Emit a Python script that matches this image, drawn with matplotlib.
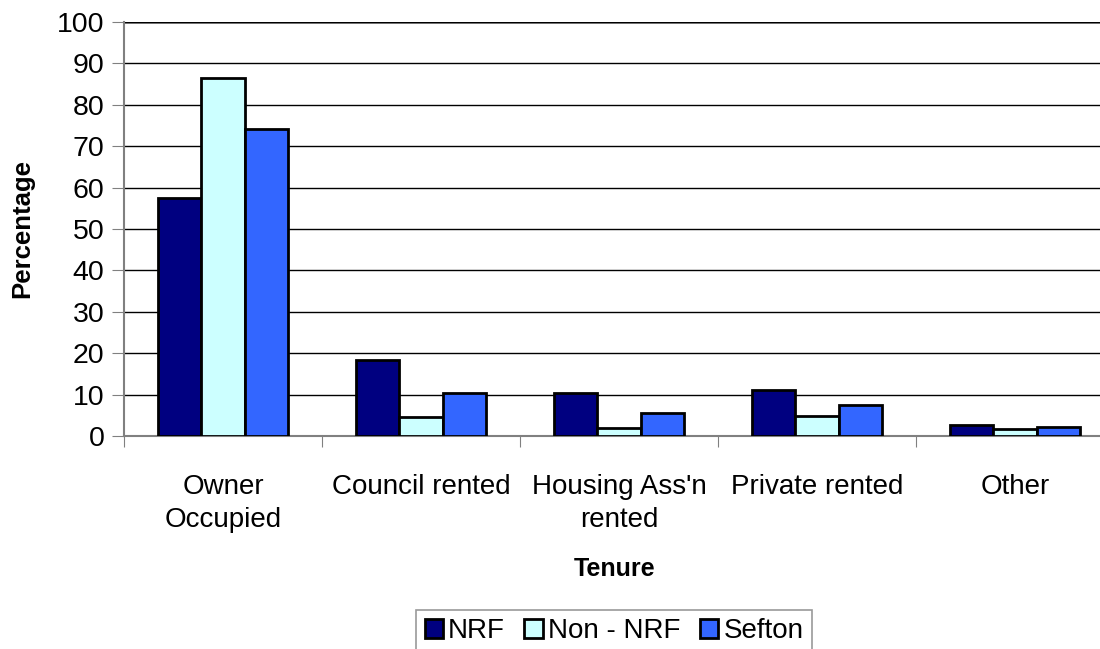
import numpy as np
import matplotlib
matplotlib.use("Agg")
import matplotlib.pyplot as plt

plt.rcParams['font.family'] = ['Liberation Sans', 'DejaVu Sans']

categories = ["Owner\nOccupied", "Council rented", "Housing Ass'n\nrented",
              "Private rented", "Other"]
series = ["NRF", "Non - NRF", "Sefton"]
nrf = [57.4, 18.4, 10.3, 11.1, 2.7]
non_nrf = [86.4, 4.5, 1.9, 4.9, 1.7]
sefton = [74.2, 10.5, 5.5, 7.6, 2.2]
colors = ["#000080", "#CCFFFF", "#3366FF"]

fig = plt.figure(figsize=(11, 6.49), dpi=100)
ax = fig.add_axes([124 / 1100, 1 - 436 / 649, 990 / 1100, 414 / 649])

x = np.arange(len(categories))
w = 0.22
for i, (vals, name) in enumerate(zip([nrf, non_nrf, sefton], series)):
    ax.bar(x + (i - 1) * w, vals, w, color=colors[i], edgecolor='black',
           linewidth=2, label=name, zorder=3)

ax.set_xlim(-0.5, len(categories) - 0.5)
ax.set_ylim(0, 100)
ax.set_yticks(range(0, 101, 10))
ax.tick_params(axis='y', labelsize=20.5, length=9, color='#808080', pad=5)

# category boundaries as ticks, labels at centres
ax.set_xticks(np.arange(len(categories) + 1) - 0.5)
ax.set_xticklabels([])
ax.set_xticks(x, minor=True)
ax.set_xticklabels(categories, minor=True, fontsize=20, linespacing=1.37)
ax.tick_params(axis='x', which='major', length=8, color='#808080')
ax.tick_params(axis='x', which='minor', length=0, pad=27)

ax.grid(axis='y', color='black', linewidth=1, zorder=0)
for s in ['top', 'right']:
    ax.spines[s].set_visible(False)
ax.spines['left'].set_color('#808080')
ax.spines['bottom'].set_color('#808080')
ax.spines['left'].set_linewidth(1.5)
ax.spines['bottom'].set_linewidth(1.5)
ax.axhline(100, color='#808080', linewidth=2, zorder=1)

fig.text(22 / 1100, 1 - 229 / 649, "Percentage", fontsize=18.5, fontweight='bold',
         rotation=90, ha='center', va='center')
fig.text(615 / 1100, 1 - 569 / 649, "Tenure", fontsize=18, fontweight='bold',
         ha='center', va='center')

leg = fig.legend(loc='upper center', bbox_to_anchor=(614 / 1100, 1 - 610 / 649),
                 ncol=3, fontsize=20, frameon=True, fancybox=False,
                 edgecolor='#808080', handlelength=0.65, handleheight=0.65,
                 handletextpad=0.2, columnspacing=0.7, borderpad=0.3,
                 borderaxespad=0)
leg.get_frame().set_linewidth(1.2)
for p in leg.get_patches():
    p.set_linewidth(2)

fig.savefig("out.png", dpi=100)
